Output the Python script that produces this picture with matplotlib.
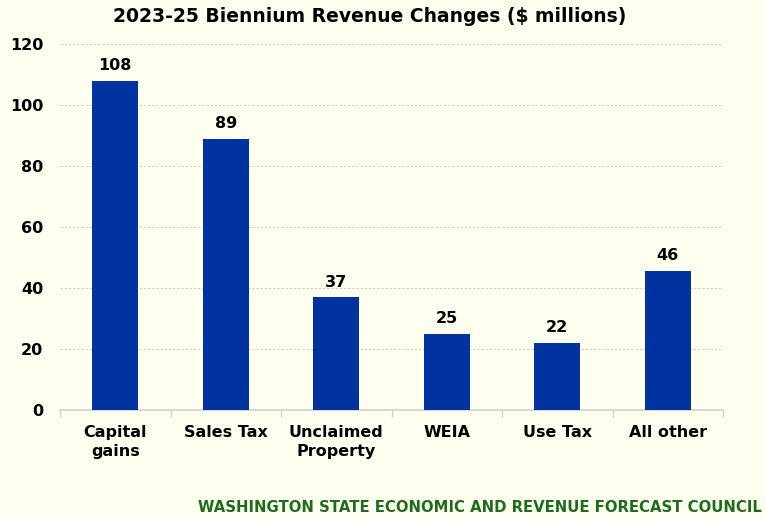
import matplotlib
matplotlib.use('Agg')
import matplotlib.pyplot as plt
import numpy as np

categories = ['Capital\ngains', 'Sales Tax', 'Unclaimed\nProperty', 'WEIA', 'Use Tax', 'All other']
values = [108, 89, 37, 25, 22, 45.6]
yticks = [0, 20, 40, 60, 80, 100, 120]

BG = '#FFFFF0'
BAR = '#0033A0'

plt.rcParams['font.family'] = ['DejaVu Sans']
plt.rcParams['font.weight'] = 'bold'

fig = plt.figure(figsize=(7.65, 5.19), dpi=100, facecolor=BG)
ax = fig.add_axes([60 / 765, 1 - 410 / 519, 663 / 765, 366 / 519], facecolor=BG)

x = np.arange(len(categories))
bars = ax.bar(x, values, width=0.42, color=BAR, zorder=3)
for b, v in zip(bars, values):
    ax.text(b.get_x() + b.get_width() / 2, v + 2.5, f'{v:.0f}', ha='center', va='bottom',
            fontsize=11.5, fontweight='bold', color='black')

ax.set_xlim(-0.5, len(categories) - 0.5)
ax.set_ylim(0, 120)
ax.set_yticks(yticks)
ax.set_yticklabels([str(t) for t in yticks], fontsize=11.5, fontweight='bold')
ax.yaxis.grid(True, color='#C8C8C8', linestyle=(0, (3, 2)), linewidth=0.6, zorder=0)
ax.tick_params(axis='y', length=0, pad=12)

ax.set_xticks(x)
ax.set_xticklabels(categories, fontsize=11.5, fontweight='bold', linespacing=1.3)
ax.tick_params(axis='x', length=0, pad=11)
# boundary ticks between categories
ax.set_xticks(np.arange(-0.5, len(categories)), minor=True)
ax.tick_params(axis='x', which='minor', length=5, color='#D0D0D0', width=1)

for s in ['top', 'right', 'left']:
    ax.spines[s].set_visible(False)
ax.spines['bottom'].set_color('#D0D0D0')
ax.spines['bottom'].set_linewidth(1.2)

fig.text(370 / 765, 1 - 17 / 519, '2023-25 Biennium Revenue Changes ($ millions)',
         ha='center', va='center', fontsize=13.5, fontweight='bold')
fig.text(1 - 3 / 765, 1 - 507 / 519, 'WASHINGTON STATE ECONOMIC AND REVENUE FORECAST COUNCIL',
         ha='right', va='center', fontsize=10.7, fontweight='bold', color='#1E6B1E')

fig.savefig('out.png', dpi=100, facecolor=BG)
